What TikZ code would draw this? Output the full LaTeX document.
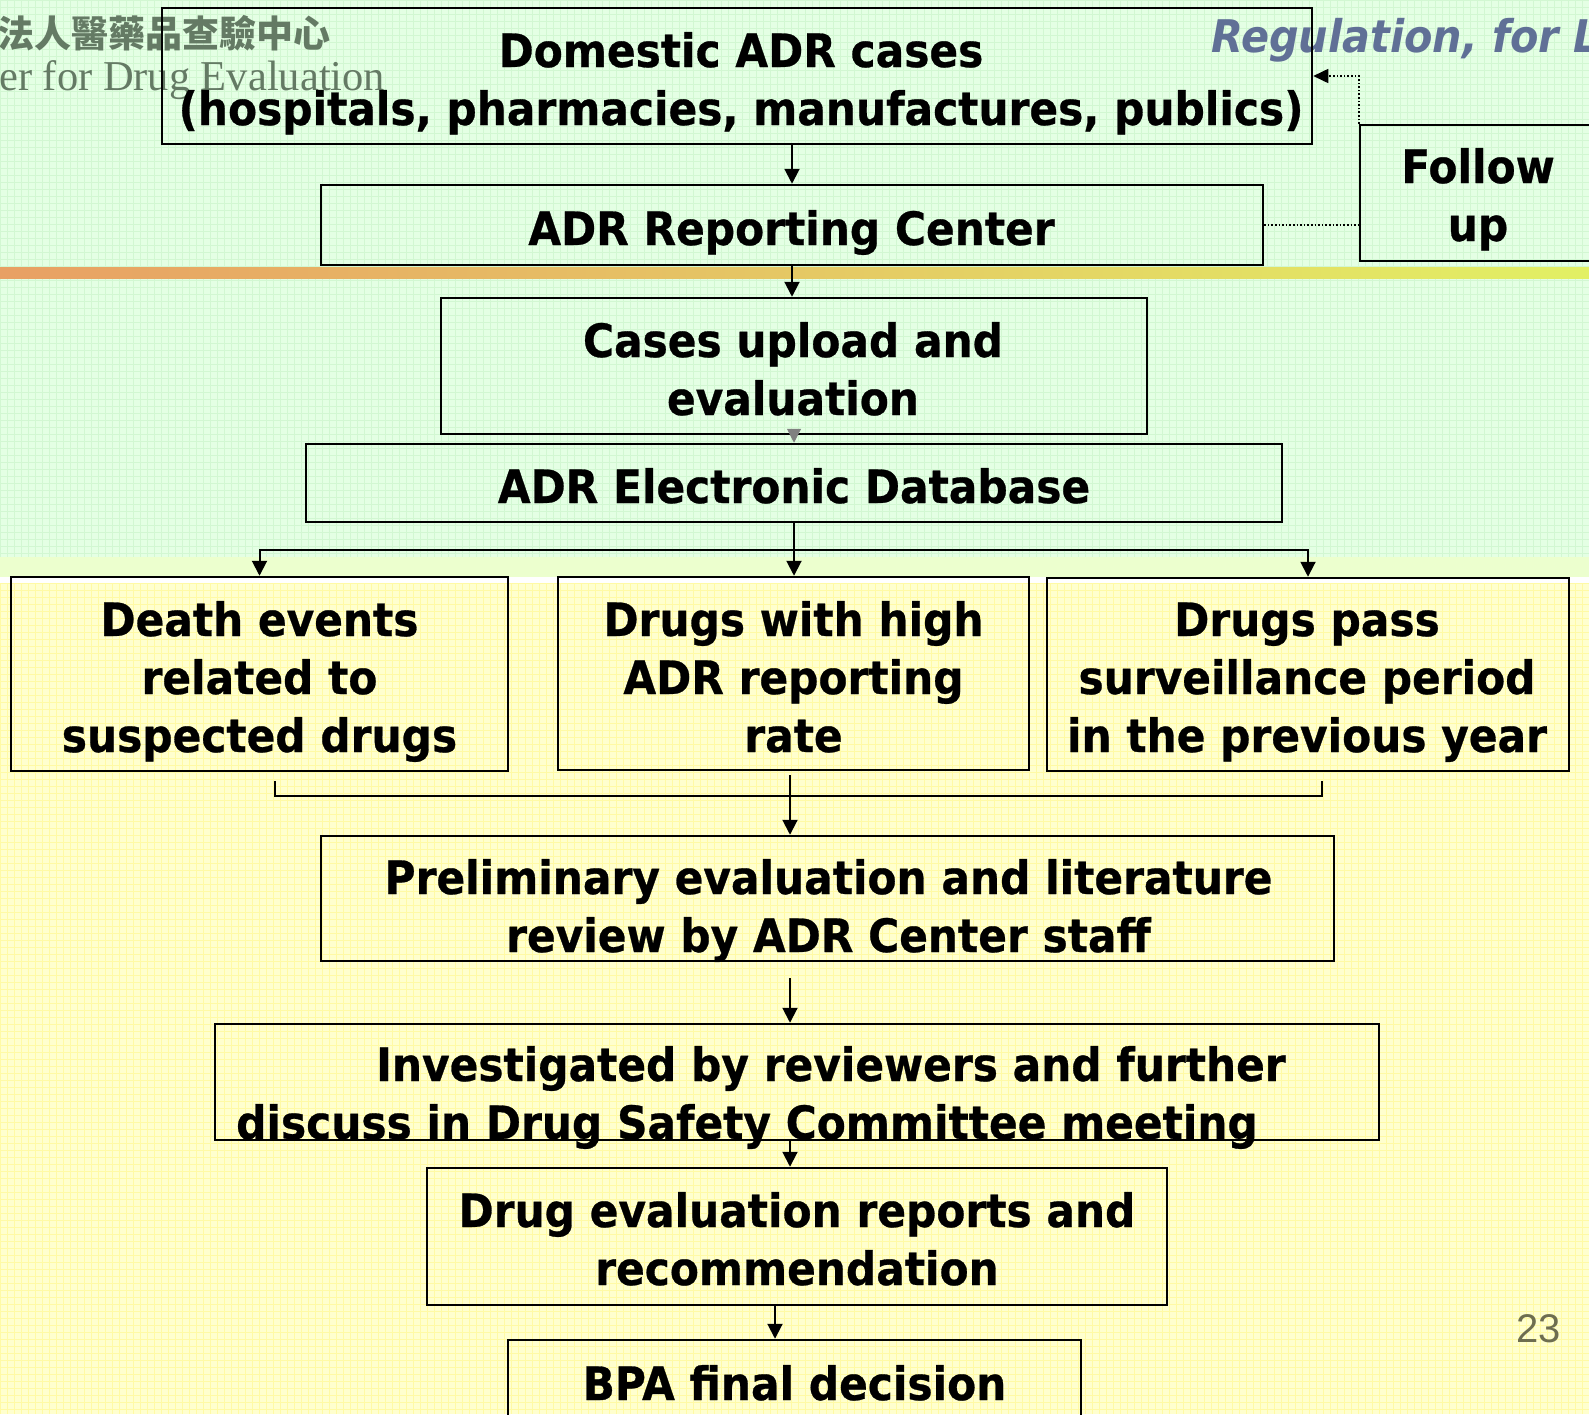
\documentclass[tikz,border=0pt]{standalone}
\usepackage{fontspec}
\setmainfont{DejaVu Sans}[FakeStretch=0.92,BoldFeatures={FakeBold=0.6},BoldItalicFont={DejaVu Sans Bold Oblique}]
\newfontfamily\cjk{Noto Sans CJK TC}
\newfontfamily\hdserif{Liberation Serif}
\newfontfamily\pgnum{Liberation Sans}
\usetikzlibrary{arrows.meta}
\definecolor{bggreen}{RGB}{228,255,228}
\definecolor{gridgreen}{RGB}{210,247,210}
\definecolor{bgmid}{RGB}{236,255,206}
\definecolor{bgyellow}{RGB}{255,255,206}
\definecolor{gridyellow}{RGB}{255,250,165}
\definecolor{stripeL}{RGB}{232,160,100}
\definecolor{stripeM}{RGB}{232,204,100}
\definecolor{stripeR}{RGB}{226,240,100}
\definecolor{hdrc}{RGB}{100,122,100}
\definecolor{regc}{RGB}{96,112,150}
\definecolor{numc}{RGB}{110,110,80}
\begin{document}
\begin{tikzpicture}[x=1pt,y=-1pt,
  box/.style={draw=black,line width=2.5pt,inner sep=0pt},
  txt/.style={font=\fontsize{46}{58}\selectfont\bfseries,align=center,anchor=base,inner sep=0pt},
  arr/.style={line width=2pt,-{Triangle[length=15pt,width=15pt]}},
  dots/.style={line width=1.6pt,dotted},
  gridline/.style={line width=0.7pt}]
\useasboundingbox (0,0) rectangle (1589,1414);
\clip (0,0) rectangle (1589,1414);
% background
\fill[bggreen] (0,0) rectangle (1589,557);
\fill[bgmid] (0,557) rectangle (1589,577);
\fill[white] (0,577) rectangle (1589,583);
\fill[bgyellow] (0,583) rectangle (1589,1414);
\begin{scope}
\clip (0,0) rectangle (1589,557);
\foreach \g in {0,7,...,1589} \draw[gridline,gridgreen] (\g,0) -- (\g,557);
\foreach \g in {0,7,...,557} \draw[gridline,gridgreen] (0,\g) -- (1589,\g);
\end{scope}
\begin{scope}
\clip (0,583) rectangle (1589,1414);
\foreach \g in {0,7,...,1589} \draw[gridline,gridyellow] (\g,583) -- (\g,1414);
\foreach \g in {583,590,...,1414} \draw[gridline,gridyellow] (0,\g) -- (1589,\g);
\end{scope}
\shade[left color=stripeL,middle color=stripeM,right color=stripeR] (0,267) rectangle (1589,278);
% header texts
\node[anchor=base west,inner sep=0pt,text=hdrc,font=\cjk\bfseries\fontsize{37}{37}\selectfont] (zh) at (-3,47) {法人醫藥品查驗中心};
\node[anchor=base west,inner sep=0pt,text=hdrc,font=\hdserif\fontsize{42.5}{42.5}\selectfont] (en) at (-1,90) {er for Drug Evaluation};
\node[anchor=base west,inner sep=0pt,text=regc,font=\fontsize{45}{45}\selectfont\bfseries\itshape] (reg) at (1211,52) {Regulation, for L};
\node[anchor=base west,inner sep=0pt,text=numc,font=\pgnum\fontsize{40}{40}\selectfont] (pg) at (1516,1342) {23};
% boxes
\node[box,minimum width=1150pt,minimum height=136pt] (dom) at (737,76) {};
\node[box,minimum width=942pt,minimum height=80pt] (rc) at (792,225) {};
\node[box,minimum width=236pt,minimum height=136pt] (fu) at (1478,193) {};
\node[box,minimum width=706pt,minimum height=136pt] (up) at (794,366) {};
\node[box,minimum width=976pt,minimum height=78pt] (db) at (794,483) {};
\node[box,minimum width=497pt,minimum height=194pt] (de) at (259.5,674) {};
\node[box,minimum width=471pt,minimum height=193pt] (hr) at (793.5,673.5) {};
\node[box,minimum width=522pt,minimum height=193pt] (sp) at (1308,674.5) {};
\node[box,minimum width=1013pt,minimum height=125pt] (pr) at (827.5,898.5) {};
\node[box,minimum width=1164pt,minimum height=116pt] (iv) at (797,1082) {};
\node[box,minimum width=740pt,minimum height=137pt] (ev) at (797,1236.5) {};
\node[box,minimum width=573pt,minimum height=100pt] (bpa) at (794.5,1390) {};
% texts (base anchor = last line baseline)
\node[txt] (tdom) at (741,125) {Domestic ADR cases\\(hospitals, pharmacies, manufactures, publics)};
\node[txt] (trc) at (791.5,245) {ADR Reporting Center};
\node[txt] (tfu) at (1478,241) {Follow\\up};
\node[txt] (tup) at (793,415) {Cases upload and\\evaluation};
\node[txt] (tdb) at (794,503) {ADR Electronic Database};
\node[txt] (tde) at (259.5,752) {Death events\\related to\\suspected drugs};
\node[txt] (thr) at (793.5,752) {Drugs with high\\ADR reporting\\rate};
\node[txt] (tsp) at (1307,752) {Drugs pass\\surveillance period\\in the previous year};
\node[txt] (tpr) at (828.5,952) {Preliminary evaluation and literature\\review by ADR Center staff};
\node[txt,align=left,anchor=base west] (tiv) at (236,1139) {\hspace*{140pt}Investigated by reviewers and further\\discuss in Drug Safety Committee meeting};
\node[txt] (tev) at (797,1285) {Drug evaluation reports and\\recommendation};
\node[txt] (tbpa) at (794.5,1400) {BPA final decision};
% connectors
\draw[arr] (dom.south -| rc.north) -- (rc.north);
\draw[arr] (rc.south) -- (rc.south |- up.north);
\draw[line width=1pt,gray,-{Triangle[length=14pt,width=14pt]}] (up.south) -- (db.north);
\coordinate (br) at (794,550);
\draw[arr] (db.south) -- (db.south |- hr.north);
\draw[arr] (br) -| (de.north);
\draw[arr] (br) -| (sp.north);
\coordinate (bl1) at (275,781);
\coordinate (bl2) at (275,796);
\coordinate (br2) at (1322,796);
\coordinate (br1) at (1322,781);
\draw[line width=2pt] (bl1) -- (bl2) -- (br2) -- (br1);
\coordinate (ms) at (790,775);
\draw[arr] (ms) -- (ms |- pr.north);
\coordinate (ps) at (790,978);
\draw[arr] (ps) -- (ps |- iv.north);
\draw[arr] (iv.south -| ps) -- (ev.north -| ps);
\coordinate (es) at (775,1305);
\draw[arr] (es) -- (es |- bpa.north);
\draw[dots] (rc.east) -- (rc.east -| fu.west);
\draw[dots,-{Triangle[length=15pt,width=14pt]}] (fu.north west) |- (dom.east);
\end{tikzpicture}
\end{document}
